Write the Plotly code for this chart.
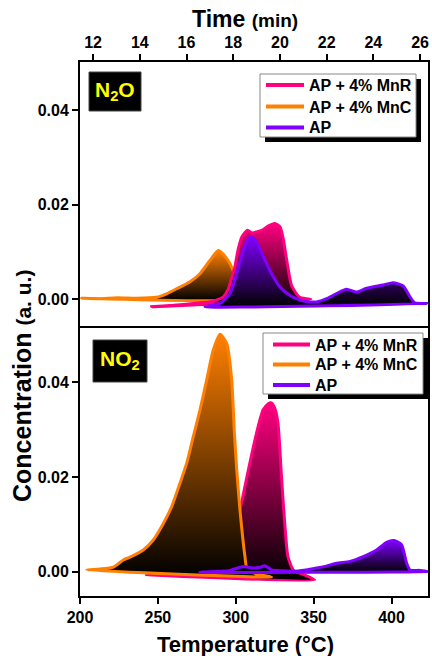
import plotly.graph_objects as go

# ---------------- data ----------------
# N2O panel
n2o_mnr_T = [246, 260, 273, 285, 292, 295, 297.3, 299.4, 301.5, 304, 307.5, 310.5, 314, 317, 321, 325, 328.4, 330.5, 332.7, 335.9, 341, 345, 348]
n2o_mnr_C = [-0.0016, -0.0013, -0.0009, -0.0005, 0.0005, 0.002, 0.0045, 0.0068, 0.0105, 0.0132, 0.0146, 0.014, 0.0143, 0.0146, 0.0155, 0.016, 0.0153, 0.0127, 0.0083, 0.0028, 0.0004, 0.0001, 0.0]

n2o_mnc_T = [201, 212, 224, 236, 249, 256, 262, 270.6, 277, 283.4, 288.8, 294.2, 298.4, 302, 305]
n2o_mnc_C = [0.0002, 0.0001, 0.0003, 0.0002, 0.0004, 0.0012, 0.0022, 0.0037, 0.0054, 0.0082, 0.0103, 0.0086, 0.006, 0.002, 0.0002]

n2o_ap_T = [280.2, 289.9, 296.3, 300.6, 304.8, 308, 310.2, 313.4, 317.7, 323, 328.4, 334.8, 343.3, 351.9, 358.3, 364.7, 371.1, 377.5, 384, 394.6, 401, 407.5, 411.8, 415, 423.4]
n2o_ap_C = [-0.0016, -0.0009, 0.0012, 0.0054, 0.0104, 0.0128, 0.0132, 0.0121, 0.009, 0.0054, 0.0026, 0.0008, -0.0004, -0.0006, 0.0001, 0.0012, 0.0021, 0.0015, 0.0023, 0.003, 0.0035, 0.0028, 0.0005, -0.0008, -0.0009]

# NO2 panel
no2_mnr_T = [242.8, 260, 280, 292, 297, 301, 304, 306.5, 309, 313.3, 317.5, 320.7, 322.9, 325, 327.1, 329.2, 331.4, 333.5, 336.9, 342, 350.6]
no2_mnr_C = [-0.0006, -0.0008, -0.0009, -0.0004, 0.005, 0.011, 0.015, 0.019, 0.0229, 0.0292, 0.0341, 0.0354, 0.0356, 0.0345, 0.0313, 0.0208, 0.0103, 0.0032, 0.0004, -0.0004, -0.0017]

no2_mnc_T = [204.3, 212.8, 221.4, 227.8, 232.1, 240.6, 247, 253.5, 258.8, 264.2, 268.5, 272.7, 277, 281.3, 285.5, 289.9, 294.2, 297.4, 299, 300.6, 302.7, 305.9, 307.4, 315, 322.9]
no2_mnc_C = [0.0004, 0.0006, 0.001, 0.0025, 0.0031, 0.0046, 0.0067, 0.0102, 0.0137, 0.0187, 0.0229, 0.0285, 0.0341, 0.0404, 0.0467, 0.0501, 0.0481, 0.0404, 0.0299, 0.0215, 0.013, 0.0032, 0.0004, -0.0006, -0.0011]

no2_ap_T = [277, 290, 296.3, 304.8, 311.2, 315, 318.7, 323, 330, 336.9, 345, 351.9, 358, 364.7, 373.3, 381.8, 390.4, 396.8, 401.5, 406.4, 409.7, 411.8, 418.2, 423.4]
no2_ap_C = [-0.0001, 0.0001, 0.0003, 0.0011, 0.0008, 0.0009, 0.0013, 0.0004, 0.0002, 0.0001, 0.0004, 0.0008, 0.0012, 0.0018, 0.0022, 0.0032, 0.0046, 0.0062, 0.0066, 0.0057, 0.0018, 0.0004, 0.0003, 0.0001]

series_names = ["AP + 4% MnR", "AP + 4% MnC", "AP"]
series_colors = ["#FF0080", "#FF8000", "#8000FF"]

temp_ticks = [200, 250, 300, 350, 400]
time_ticks = [12, 14, 16, 18, 20, 22, 24, 26]
conc_ticks = [0.0, 0.02, 0.04]
conc_ticktext = ["0.00", "0.02", "0.04"]

# ---------------- figure ----------------
FONT = "Liberation Sans, Arial, sans-serif"
W, H = 432, 656
ML, MR, MT, MB = 80, 4, 62, 60
PW, PH = W - ML - MR, H - MT - MB


def px2x(px):
    return (px - ML) / PW


def py2y(py):
    return (H - MB - py) / PH


split = py2y(328)

fig = go.Figure()


def area(T, C, color, xa, ya):
    xs = list(T) + [T[0]]
    ys = list(C) + [C[0]]
    fig.add_trace(go.Scatter(
        x=xs, y=ys, mode="lines", fill="toself",
        fillgradient=dict(type="vertical", colorscale=[[0, "black"], [1, color]]),
        line=dict(color=color, width=3, shape="spline", smoothing=0.6),
        xaxis=xa, yaxis=ya, showlegend=False, hoverinfo="skip"))


# N2O panel: orange, pink, purple (purple on top)
area(n2o_mnc_T, n2o_mnc_C, series_colors[1], "x2", "y")
area(n2o_mnr_T, n2o_mnr_C, series_colors[0], "x2", "y")
area(n2o_ap_T, n2o_ap_C, series_colors[2], "x2", "y")
# NO2 panel: pink, orange, purple
area(no2_mnr_T, no2_mnr_C, series_colors[0], "x", "y2")
area(no2_mnc_T, no2_mnc_C, series_colors[1], "x", "y2")
area(no2_ap_T, no2_ap_C, series_colors[2], "x", "y2")

# dummy for time axis
fig.add_trace(go.Scatter(x=[None], y=[None], xaxis="x3", yaxis="y", showlegend=False))

axis_common = dict(showline=True, linecolor="black", linewidth=2, showgrid=False,
                   zeroline=False, ticks="outside", ticklen=6, tickwidth=2,
                   tickcolor="black", automargin=False,
                   tickfont=dict(family=FONT, size=16, color="black", weight="bold"))

fig.update_layout(
    width=W, height=H,
    margin=dict(l=ML, r=MR, t=MT, b=MB, autoexpand=False),
    paper_bgcolor="white", plot_bgcolor="white",
    showlegend=False,
    xaxis=dict(domain=[0, 1], anchor="y2", range=[200, 423.4], tickvals=temp_ticks,
               mirror=True, **axis_common),
    xaxis2=dict(domain=[0, 1], anchor="y", range=[200, 423.4], showticklabels=False,
                showline=False, showgrid=False, zeroline=False, ticks="", automargin=False),
    xaxis3=dict(overlaying="x2", anchor="y", side="top", range=[11.44, 26.34],
                tickvals=time_ticks, **axis_common),
    yaxis=dict(domain=[split, 1], anchor="x2", range=[-0.0061, 0.0502],
               tickvals=conc_ticks, ticktext=conc_ticktext, mirror=True, **axis_common),
    yaxis2=dict(domain=[0, split], anchor="x", range=[-0.0051, 0.0514],
                tickvals=conc_ticks, ticktext=conc_ticktext, mirror=True, **axis_common),
)

common_ann = dict(xref="paper", yref="paper", showarrow=False, xanchor="center", yanchor="middle")
shapes = []

# legends drawn as boxes with line samples and text
legend_specs = [
    dict(box=(260, 416, 74, 137), line=(266, 304), tx=307, rows=(85, 106.5, 127.5)),
    dict(box=(263, 423, 333, 394), line=(273, 310), tx=313, rows=(344.5, 364.5, 385)),
]
for spec in legend_specs:
    bx0, bx1, by0, by1 = spec["box"]
    shapes.append(dict(type="rect", xref="paper", yref="paper",
                       x0=px2x(bx0 + 5), x1=px2x(bx1 + 5), y0=py2y(by1 + 5), y1=py2y(by0 + 5),
                       fillcolor="black", line=dict(width=0), layer="above"))
    shapes.append(dict(type="rect", xref="paper", yref="paper",
                       x0=px2x(bx0), x1=px2x(bx1), y0=py2y(by1), y1=py2y(by0),
                       fillcolor="white", line=dict(color="#888888", width=1), layer="above"))
    lx0, lx1 = spec["line"]
    for name, col, ry in zip(series_names, series_colors, spec["rows"]):
        shapes.append(dict(type="line", xref="paper", yref="paper",
                           x0=px2x(lx0), x1=px2x(lx1), y0=py2y(ry), y1=py2y(ry),
                           line=dict(color=col, width=4), layer="above"))
        fig.add_annotation(text="<b>%s</b>" % name, x=px2x(spec["tx"]), y=py2y(ry + 0.5),
                           xref="paper", yref="paper", showarrow=False,
                           xanchor="left", yanchor="middle",
                           font=dict(family=FONT, size=16, color="black"))

# label boxes
shapes.append(dict(type="rect", xref="paper", yref="paper", x0=px2x(89), x1=px2x(141),
                   y0=py2y(111), y1=py2y(72), fillcolor="black",
                   line=dict(color="#444444", width=1), layer="above"))
shapes.append(dict(type="rect", xref="paper", yref="paper", x0=px2x(93), x1=px2x(147),
                   y0=py2y(382), y1=py2y(340), fillcolor="black",
                   line=dict(color="#444444", width=1), layer="above"))
fig.update_layout(shapes=shapes)

ann_font = dict(family=FONT, color="black")
fig.add_annotation(text="<b>N<sub>2</sub>O</b>", x=px2x(115), y=py2y(91),
                   font=dict(family=FONT, size=21, color="#FFFF00"), **common_ann)
fig.add_annotation(text="<b>NO<sub>2</sub></b>", x=px2x(120), y=py2y(360),
                   font=dict(family=FONT, size=21, color="#FFFF00"), **common_ann)
fig.add_annotation(text="<b>Concentration <span style='font-size:21px'>(a. u.)</span></b>",
                   x=px2x(22), y=py2y(386), textangle=-90,
                   font=dict(ann_font, size=25), **common_ann)
fig.add_annotation(text="<b>Temperature (°C)</b>", x=px2x(245), y=py2y(644),
                   font=dict(ann_font, size=22), **common_ann)
fig.add_annotation(text="<b>Time <span style='font-size:19px'>(min)</span></b>",
                   x=px2x(245), y=py2y(19), font=dict(ann_font, size=23), **common_ann)

fig.write_html("out.html", config={"displayModeBar": False},
               post_script="document.body.style.margin='0px';document.body.style.overflow='hidden';")
